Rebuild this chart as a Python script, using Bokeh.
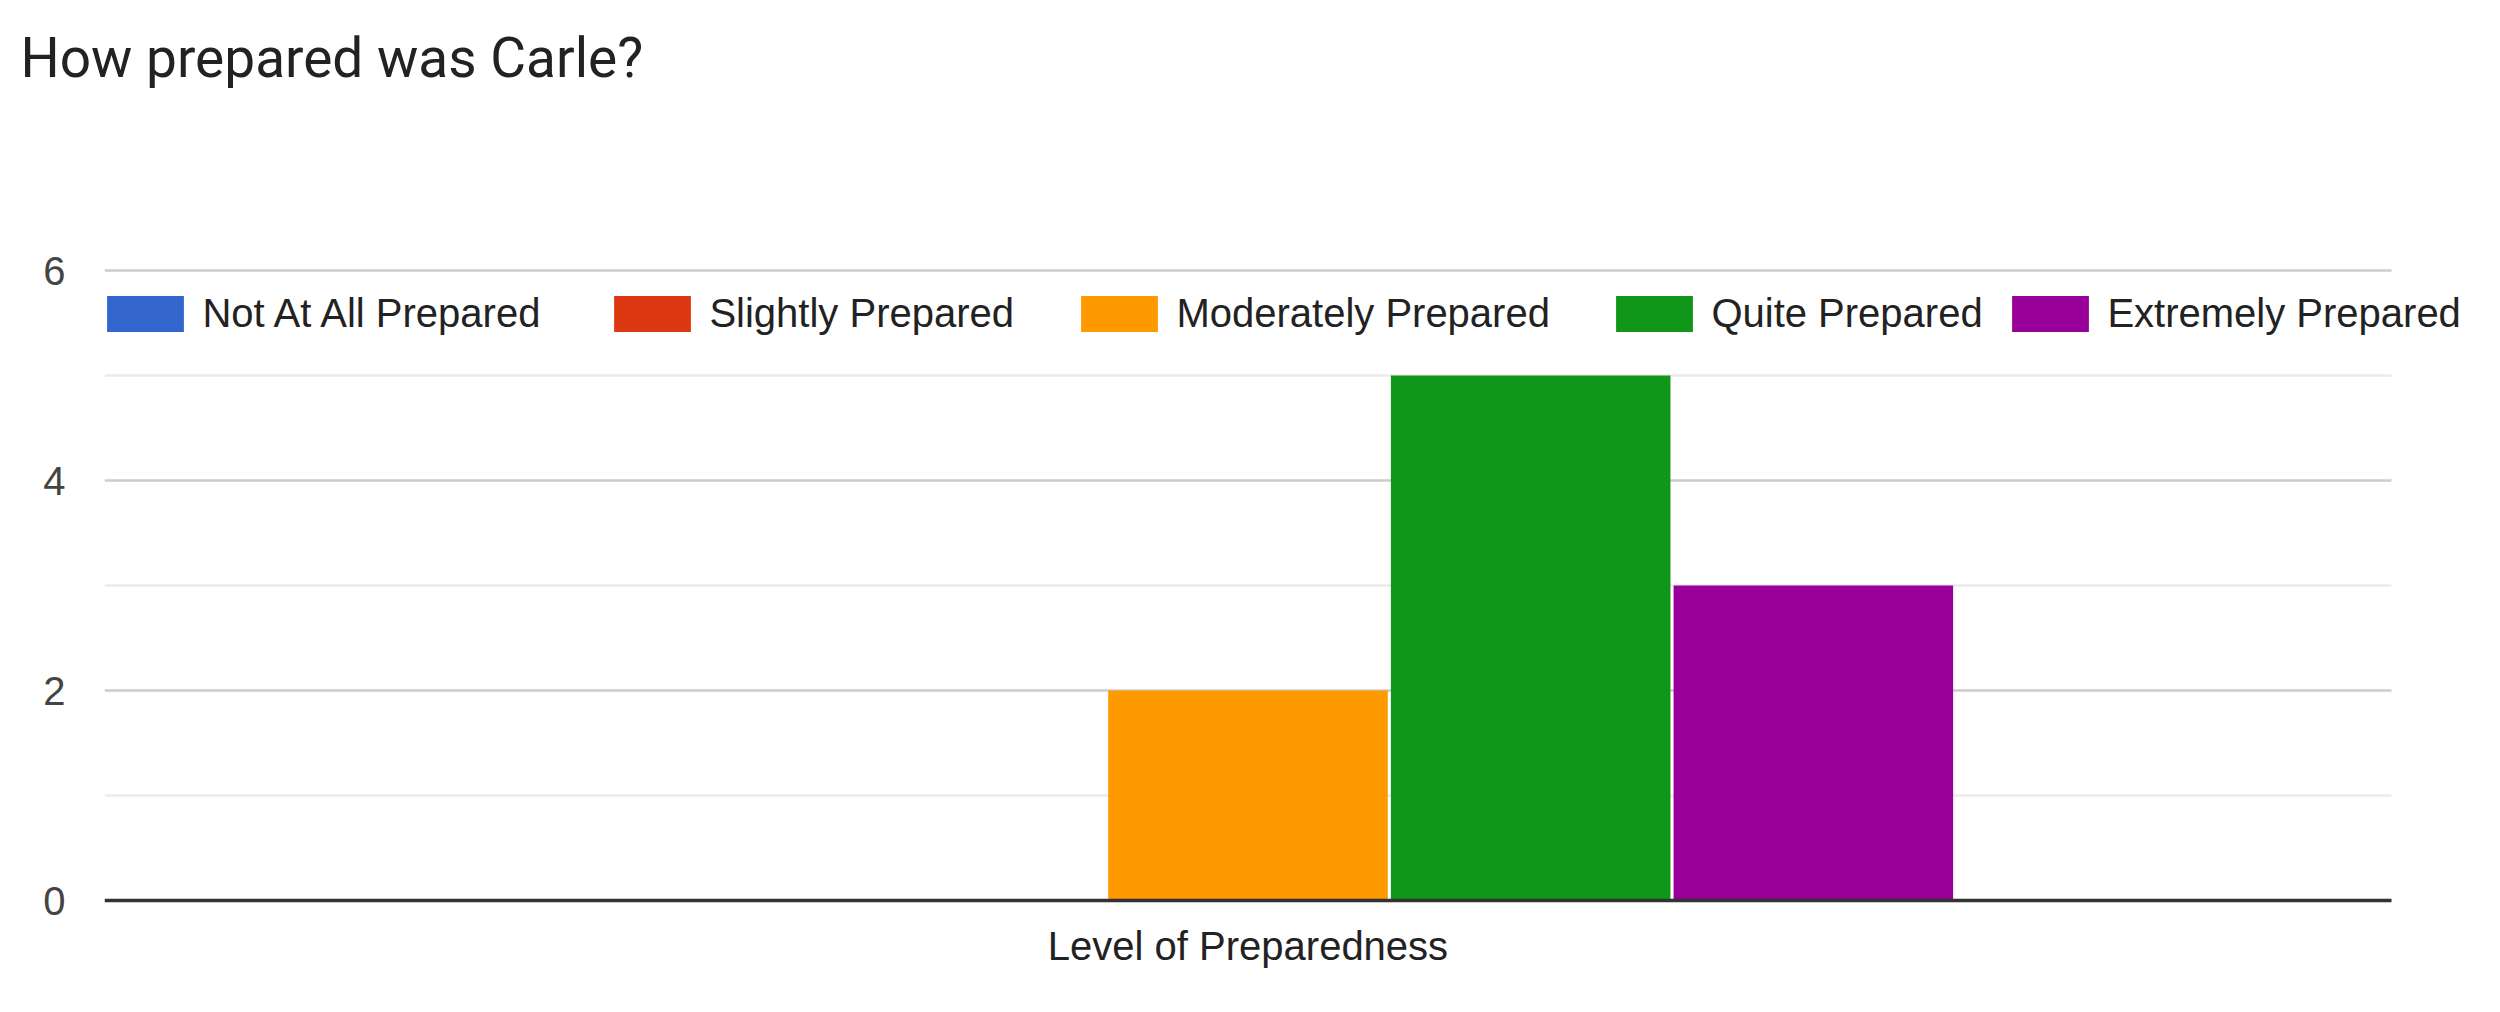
from bokeh.plotting import figure
from bokeh.models import Range1d, Legend, LegendItem, FixedTicker, ColumnDataSource
from bokeh.embed import file_html
from bokeh.resources import INLINE

# ---- data ----
group = ["Level of Preparedness"]
series = ["Not At All Prepared", "Slightly Prepared", "Moderately Prepared",
          "Quite Prepared", "Extremely Prepared"]
values = [0, 0, 2, 5, 3]
colors = ["#3366cc", "#dc3912", "#ff9900", "#109618", "#990099"]
y_ticks = [0, 2, 4, 6]
y_minor = [1, 3, 5]

# ---- layout (pixels) ----
W, H = 2484, 996
left, right_edge, top, bottom = 104, 2480, 94, 904   # frame box
plot_w = 2287          # width of the drawn chart area (one category = 0..1)
px_per_unit = 105      # vertical scale
zero_y = 900

x_end = (right_edge - left) / plot_w
y_start = -(bottom - zero_y) / px_per_unit
y_end = (zero_y - top) / px_per_unit

p = figure(width=W, height=H, x_range=Range1d(0, x_end), y_range=Range1d(y_start, y_end),
           output_backend="svg", toolbar_location=None,
           min_border_left=left, min_border_right=W - right_edge,
           min_border_top=top, min_border_bottom=H - bottom)
p.outline_line_color = None
p.background_fill_color = "white"
p.border_fill_color = "white"

p.title.text = "How prepared was Carle?"
p.title.text_font = "Roboto"
p.title.text_font_size = "55px"
p.title.text_font_style = "normal"
p.title.text_color = "#222222"
p.title.align = "left"
p.title.offset = -84
p.title.standoff = 10

# axes
p.yaxis.ticker = FixedTicker(ticks=y_ticks, minor_ticks=[])
p.yaxis.axis_line_color = None
p.yaxis.major_tick_line_color = None
p.yaxis.minor_tick_line_color = None
p.yaxis.major_label_standoff = 33
p.yaxis.major_label_text_font = "Liberation Sans"
p.yaxis.major_label_text_font_size = "40px"
p.yaxis.major_label_text_color = "#444444"

p.xaxis.ticker = FixedTicker(ticks=[0.5], minor_ticks=[])
p.xaxis.major_label_overrides = {0.5: group[0]}
p.xaxis.axis_line_color = None
p.xaxis.major_tick_line_color = None
p.xaxis.minor_tick_line_color = None
p.xaxis.major_label_standoff = 13
p.xaxis.major_label_text_font = "Liberation Sans"
p.xaxis.major_label_text_font_size = "40px"
p.xaxis.major_label_text_color = "#222222"

p.xgrid.grid_line_color = None
p.ygrid.grid_line_color = None

# gridlines spanning the chart area only
major = [t for t in y_ticks if t != 0]
p.segment(x0=[0] * len(major), x1=[1] * len(major), y0=major, y1=major,
          line_color="#cccccc", line_width=2.5)
p.segment(x0=[0] * len(y_minor), x1=[1] * len(y_minor), y0=y_minor, y1=y_minor,
          line_color="#ebebeb", line_width=2.5)

# bars
slot = 0.618 / len(series)
offsets = [(i - (len(series) - 1) / 2) * slot for i in range(len(series))]
legend_x = [-6.6, 500.4, 967.4, 1502.4, 1898.4]
renderers = []
for i, (name, val, col) in enumerate(zip(series, values, colors)):
    src = ColumnDataSource(dict(x=[0.5 + offsets[i]], v=[val]))
    r = p.vbar(x="x", top="v", width=slot * 0.989, source=src,
               fill_color=col, line_color=None)
    renderers.append(r)

# baseline
p.segment(x0=[0], x1=[1], y0=[0], y1=[0], line_color="#333333", line_width=3.5)

for i, (name, r) in enumerate(zip(series, renderers)):
    lg = Legend(items=[LegendItem(label=name, renderers=[r])],
                location=(legend_x[i], 568.5),
                orientation="horizontal", padding=0, margin=0, spacing=0,
                glyph_width=96, glyph_height=45, label_standoff=9, label_height=45,
                label_text_font="Liberation Sans", label_text_font_size="40px",
                label_text_color="#222222", border_line_color=None,
                background_fill_alpha=0)
    p.add_layout(lg)

open("out.html", "w").write(file_html(p, INLINE))
